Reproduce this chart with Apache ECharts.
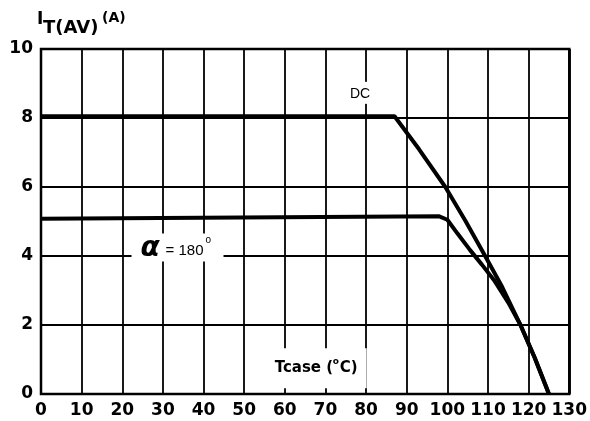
<!DOCTYPE html>
<html><head><meta charset="utf-8">
<script src="https://cdn.jsdelivr.net/npm/echarts@6/dist/echarts.min.js"></script>
<style>html,body{margin:0;background:#fff}#c{width:590px;height:421px}</style>
</head><body><div id="c"></div>
<script>
// Case temperature (°C) and average on-state current (A)
const xTicks = [0,10,20,30,40,50,60,70,80,90,100,110,120,130];
const yTicks = [0,2,4,6,8,10];
const dcT  = [0, 87, 93, 99.5, 104.4, 109.3, 113.5, 118, 121.5, 125];
const dcI  = [8.05, 8.05, 7.1, 6.0, 5.03, 4.0, 3.1, 2.0, 1.05, 0];
const a180T = [0, 98, 100, 102.5, 105.6, 108.5, 111.5, 115, 118, 121.5, 125];
const a180I = [5.08, 5.15, 5.05, 4.65, 4.17, 3.75, 3.3, 2.65, 2.0, 1.05, 0];

const chart = echarts.init(document.getElementById('c'), null, {renderer: 'canvas'});
const F = '"DejaVu Sans", "Liberation Sans", sans-serif';
const L = '"Liberation Sans", sans-serif';
const zip = (a, b) => a.map((v, i) => [v, b[i]]);

chart.setOption({
  animation: false,
  backgroundColor: '#fff',
  grid: {left: 41, right: 17, top: 49, bottom: 27, show: true, borderColor: '#000', borderWidth: 2.5, backgroundColor: 'transparent'},
  xAxis: {
    type: 'value', min: xTicks[0], max: xTicks[xTicks.length-1], interval: 10,
    axisLine: {show: false}, axisTick: {show: false},
    splitLine: {show: true, lineStyle: {color: '#000', width: 1.8}},
    axisLabel: {color: '#000', fontFamily: F, fontWeight: 'bold', fontSize: 17, margin: 8}
  },
  yAxis: {
    type: 'value', min: yTicks[0], max: yTicks[yTicks.length-1], interval: 2,
    axisLine: {show: false}, axisTick: {show: false},
    splitLine: {show: true, lineStyle: {color: '#000', width: 1.8}},
    axisLabel: {color: '#000', fontFamily: F, fontWeight: 'bold', fontSize: 17, margin: 8}
  },
  series: [
    {type: 'line', data: zip(dcT, dcI), symbol: 'none', lineStyle: {color: '#000', width: 4}, z: 5},
    {type: 'line', data: zip(a180T, a180I), symbol: 'none', lineStyle: {color: '#000', width: 4}, z: 5}
  ]
});

const P = (x, y) => chart.convertToPixel({gridIndex: 0}, [x, y]);
const dcP = P(78.5, 8.7), aP = P(24, 4.25), tP = P(57.5, 0.75);
const txt = (x, y, s, o) => Object.assign({type: 'text', x: x, y: y, z: 10,
  style: Object.assign({text: s, fill: '#000', fontFamily: F, fontWeight: 'bold'}, o)});
chart.setOption({
  graphic: [
    txt(37, 11, 'I', {fontSize: 17}),
    txt(43, 19, 'T(AV)', {fontSize: 18}),
    txt(102, 11, '(A)', {fontSize: 14}),
    {type: 'rect', shape: {x: dcP[0]-15, y: dcP[1]-12, width: 30, height: 22}, style: {fill: '#fff'}, z: 9},
    txt(dcP[0], dcP[1], 'DC', {fontFamily: L, fontWeight: 'normal', fontSize: 14, align: 'center', verticalAlign: 'middle'}),
    {type: 'rect', shape: {x: aP[0]-7, y: aP[1]-14, width: 92, height: 28}, style: {fill: '#fff'}, z: 9},
    txt(aP[0]+2, aP[1]+1, 'α', {fontSize: 28, fontStyle: 'italic', verticalAlign: 'middle'}),
    txt(aP[0]+27, aP[1]+3, '= 180', {fontFamily: L, fontWeight: 'normal', fontSize: 15, verticalAlign: 'middle'}),
    txt(aP[0]+67, aP[1]-7, 'o', {fontFamily: L, fontWeight: 'normal', fontSize: 10, verticalAlign: 'middle'}),
    {type: 'rect', shape: {x: tP[0]-8, y: tP[1]-20, width: 100, height: 40}, style: {fill: '#fff'}, z: 9},
    txt(tP[0], tP[1], 'Tcase (', {fontSize: 15, verticalAlign: 'middle'}),
    txt(tP[0]+58, tP[1]-6, 'o', {fontSize: 9, verticalAlign: 'middle'}),
    txt(tP[0]+65, tP[1], 'C)', {fontSize: 15, verticalAlign: 'middle'})
  ]
});
</script></body></html>
